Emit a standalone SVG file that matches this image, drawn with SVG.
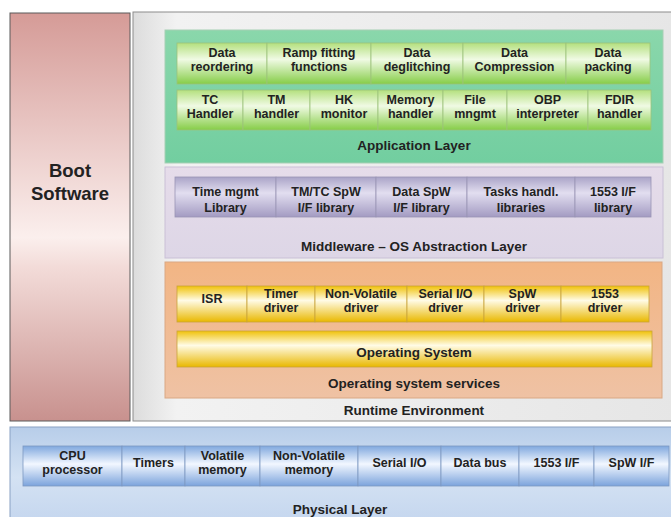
<svg xmlns="http://www.w3.org/2000/svg" width="671" height="517" viewBox="0 0 671 517">
<defs>
<linearGradient id="gBoot" x1="0" y1="0" x2="0" y2="1">
<stop offset="0" stop-color="#d59b97"/><stop offset="0.55" stop-color="#fbefed"/><stop offset="0.62" stop-color="#f3dcd9"/><stop offset="1" stop-color="#c8918e"/>
</linearGradient>
<linearGradient id="gRun" x1="0" y1="0" x2="1" y2="0">
<stop offset="0" stop-color="#dcdcdc"/><stop offset="0.08" stop-color="#f2f2f2"/><stop offset="1" stop-color="#e6e6e6"/>
</linearGradient>
<linearGradient id="gApp" x1="0" y1="0" x2="0" y2="1">
<stop offset="0" stop-color="#8ad7ab"/><stop offset="1" stop-color="#72cea0"/>
</linearGradient>
<linearGradient id="gMid" x1="0" y1="0" x2="0" y2="1">
<stop offset="0" stop-color="#e6dcea"/><stop offset="1" stop-color="#ddd6e6"/>
</linearGradient>
<linearGradient id="gOS" x1="0" y1="0" x2="0" y2="1">
<stop offset="0" stop-color="#f2b584"/><stop offset="1" stop-color="#efc2a4"/>
</linearGradient>
<linearGradient id="gPhy" x1="0" y1="0" x2="0" y2="1">
<stop offset="0" stop-color="#b7cde9"/><stop offset="0.5" stop-color="#d4e2f3"/><stop offset="1" stop-color="#c3d5ee"/>
</linearGradient>
<linearGradient id="cGreen" x1="0" y1="0" x2="0" y2="1">
<stop offset="0" stop-color="#b4e07e"/><stop offset="0.4" stop-color="#f0fae4"/><stop offset="1" stop-color="#86cd48"/>
</linearGradient>
<linearGradient id="cPurple" x1="0" y1="0" x2="0" y2="1">
<stop offset="0" stop-color="#aaa4c8"/><stop offset="0.4" stop-color="#e2def0"/><stop offset="1" stop-color="#a39bc2"/>
</linearGradient>
<linearGradient id="cYellow" x1="0" y1="0" x2="0" y2="1">
<stop offset="0" stop-color="#f0c20a"/><stop offset="0.4" stop-color="#fffbe6"/><stop offset="1" stop-color="#e9b800"/>
</linearGradient>
<linearGradient id="cBlue" x1="0" y1="0" x2="0" y2="1">
<stop offset="0" stop-color="#80a8de"/><stop offset="0.45" stop-color="#f2f7ff"/><stop offset="1" stop-color="#7ba3dc"/>
</linearGradient>
</defs>
<style>
text{font-family:"Liberation Sans",Arial,sans-serif;font-weight:bold;fill:#222;text-anchor:middle;font-size:12.5px}
.big{font-size:18.5px}
.lbl{font-size:13.5px}
.g{fill:url(#cGreen);stroke:#9cc27a;stroke-width:0.8}
.p{fill:url(#cPurple);stroke:#9a94b4;stroke-width:0.8}
.y{fill:url(#cYellow);stroke:#c9a43a;stroke-width:0.8}
.b{fill:url(#cBlue);stroke:#7d98c0;stroke-width:0.8}
</style>
<rect width="671" height="517" fill="#ffffff"/>

<g id="boot">
<rect x="10" y="13" width="120" height="408" fill="url(#gBoot)" stroke="#5a5a5a" stroke-width="1"/>
<text class="big" x="70" y="177">Boot</text>
<text class="big" x="70" y="200">Software</text>
</g>

<g id="runtime">
<rect x="133" y="12" width="545" height="409" fill="url(#gRun)" stroke="#8c8c8c" stroke-width="1"/>
<text class="lbl" x="414" y="415">Runtime Environment</text>
</g>

<g id="application-layer">
<rect x="165" y="30" width="498" height="133" fill="url(#gApp)" stroke="#a6cfb4" stroke-width="1"/>
<text class="lbl" x="414" y="150">Application Layer</text>
</g>
<g id="data-reordering"><rect class="g" x="177" y="43" width="90" height="41"/><text x="222" y="57">Data</text><text x="222" y="71">reordering</text></g>
<g id="ramp-fitting"><rect class="g" x="267" y="43" width="104" height="41"/><text x="319" y="57">Ramp fitting</text><text x="319" y="71">functions</text></g>
<g id="data-deglitching"><rect class="g" x="371" y="43" width="92" height="41"/><text x="417" y="57">Data</text><text x="417" y="71">deglitching</text></g>
<g id="data-compression"><rect class="g" x="463" y="43" width="103" height="41"/><text x="514.5" y="57">Data</text><text x="514.5" y="71">Compression</text></g>
<g id="data-packing"><rect class="g" x="566" y="43" width="84" height="41"/><text x="608" y="57">Data</text><text x="608" y="71">packing</text></g>

<g id="tc-handler"><rect class="g" x="177" y="90" width="66" height="40"/><text x="210" y="104">TC</text><text x="210" y="118">Handler</text></g>
<g id="tm-handler"><rect class="g" x="243" y="90" width="67" height="40"/><text x="276.5" y="104">TM</text><text x="276.5" y="118">handler</text></g>
<g id="hk-monitor"><rect class="g" x="310" y="90" width="68" height="40"/><text x="344" y="104">HK</text><text x="344" y="118">monitor</text></g>
<g id="memory-handler"><rect class="g" x="378" y="90" width="65" height="40"/><text x="410.5" y="104">Memory</text><text x="410.5" y="118">handler</text></g>
<g id="file-mngmt"><rect class="g" x="443" y="90" width="64" height="40"/><text x="475" y="104">File</text><text x="475" y="118">mngmt</text></g>
<g id="obp-interpreter"><rect class="g" x="507" y="90" width="81" height="40"/><text x="547.5" y="104">OBP</text><text x="547.5" y="118">interpreter</text></g>
<g id="fdir-handler"><rect class="g" x="588" y="90" width="63" height="40"/><text x="619.5" y="104">FDIR</text><text x="619.5" y="118">handler</text></g>

<g id="middleware-layer">
<rect x="165" y="167" width="498" height="91" fill="url(#gMid)" stroke="#c9c0d6" stroke-width="1"/>
<text class="lbl" x="414" y="251">Middleware – OS Abstraction Layer</text>
</g>
<g id="time-mgmt"><rect class="p" x="175" y="177" width="101" height="40"/><text x="225.5" y="196">Time mgmt</text><text x="225.5" y="212">Library</text></g>
<g id="tmtc-spw"><rect class="p" x="276" y="177" width="100" height="40"/><text x="326" y="196">TM/TC SpW</text><text x="326" y="212">I/F library</text></g>
<g id="data-spw"><rect class="p" x="376" y="177" width="91" height="40"/><text x="421.5" y="196">Data SpW</text><text x="421.5" y="212">I/F library</text></g>
<g id="tasks-handl"><rect class="p" x="467" y="177" width="108" height="40"/><text x="521" y="196">Tasks handl.</text><text x="521" y="212">libraries</text></g>
<g id="lib-1553"><rect class="p" x="575" y="177" width="76" height="40"/><text x="613" y="196">1553 I/F</text><text x="613" y="212">library</text></g>

<g id="os-services">
<rect x="165" y="262" width="497" height="136" fill="url(#gOS)" stroke="#d9a884" stroke-width="1"/>
<text class="lbl" x="414" y="388">Operating system services</text>
</g>
<g id="isr"><rect class="y" x="177" y="286" width="70" height="36"/><text x="212" y="303">ISR</text></g>
<g id="timer-driver"><rect class="y" x="247" y="286" width="68" height="36"/><text x="281" y="298">Timer</text><text x="281" y="312">driver</text></g>
<g id="nv-driver"><rect class="y" x="315" y="286" width="92" height="36"/><text x="361" y="298">Non-Volatile</text><text x="361" y="312">driver</text></g>
<g id="serial-driver"><rect class="y" x="407" y="286" width="77" height="36"/><text x="445.5" y="298">Serial I/O</text><text x="445.5" y="312">driver</text></g>
<g id="spw-driver"><rect class="y" x="484" y="286" width="77" height="36"/><text x="522.5" y="298">SpW</text><text x="522.5" y="312">driver</text></g>
<g id="driver-1553"><rect class="y" x="561" y="286" width="88" height="36"/><text x="605" y="298">1553</text><text x="605" y="312">driver</text></g>
<g id="operating-system"><rect class="y" x="177" y="331" width="475" height="36"/><text class="lbl" x="414" y="357">Operating System</text></g>

<g id="physical-layer">
<rect x="10" y="427" width="670" height="100" fill="url(#gPhy)" stroke="#8aa2c4" stroke-width="1"/>
<text class="lbl" x="340" y="514">Physical Layer</text>
</g>
<g id="cpu"><rect class="b" x="23" y="446" width="99" height="40"/><text x="72.5" y="460">CPU</text><text x="72.5" y="474">processor</text></g>
<g id="timers"><rect class="b" x="122" y="446" width="63" height="40"/><text x="153.5" y="467">Timers</text></g>
<g id="volatile-memory"><rect class="b" x="185" y="446" width="75" height="40"/><text x="222.5" y="460">Volatile</text><text x="222.5" y="474">memory</text></g>
<g id="nv-memory"><rect class="b" x="260" y="446" width="98" height="40"/><text x="309" y="460">Non-Volatile</text><text x="309" y="474">memory</text></g>
<g id="serial-io"><rect class="b" x="358" y="446" width="83" height="40"/><text x="399.5" y="467">Serial I/O</text></g>
<g id="data-bus"><rect class="b" x="441" y="446" width="78" height="40"/><text x="480" y="467">Data bus</text></g>
<g id="if-1553"><rect class="b" x="519" y="446" width="75" height="40"/><text x="556.5" y="467">1553 I/F</text></g>
<g id="spw-if"><rect class="b" x="594" y="446" width="75" height="40"/><text x="631.5" y="467">SpW I/F</text></g>

<g id="connectors"></g>
</svg>
